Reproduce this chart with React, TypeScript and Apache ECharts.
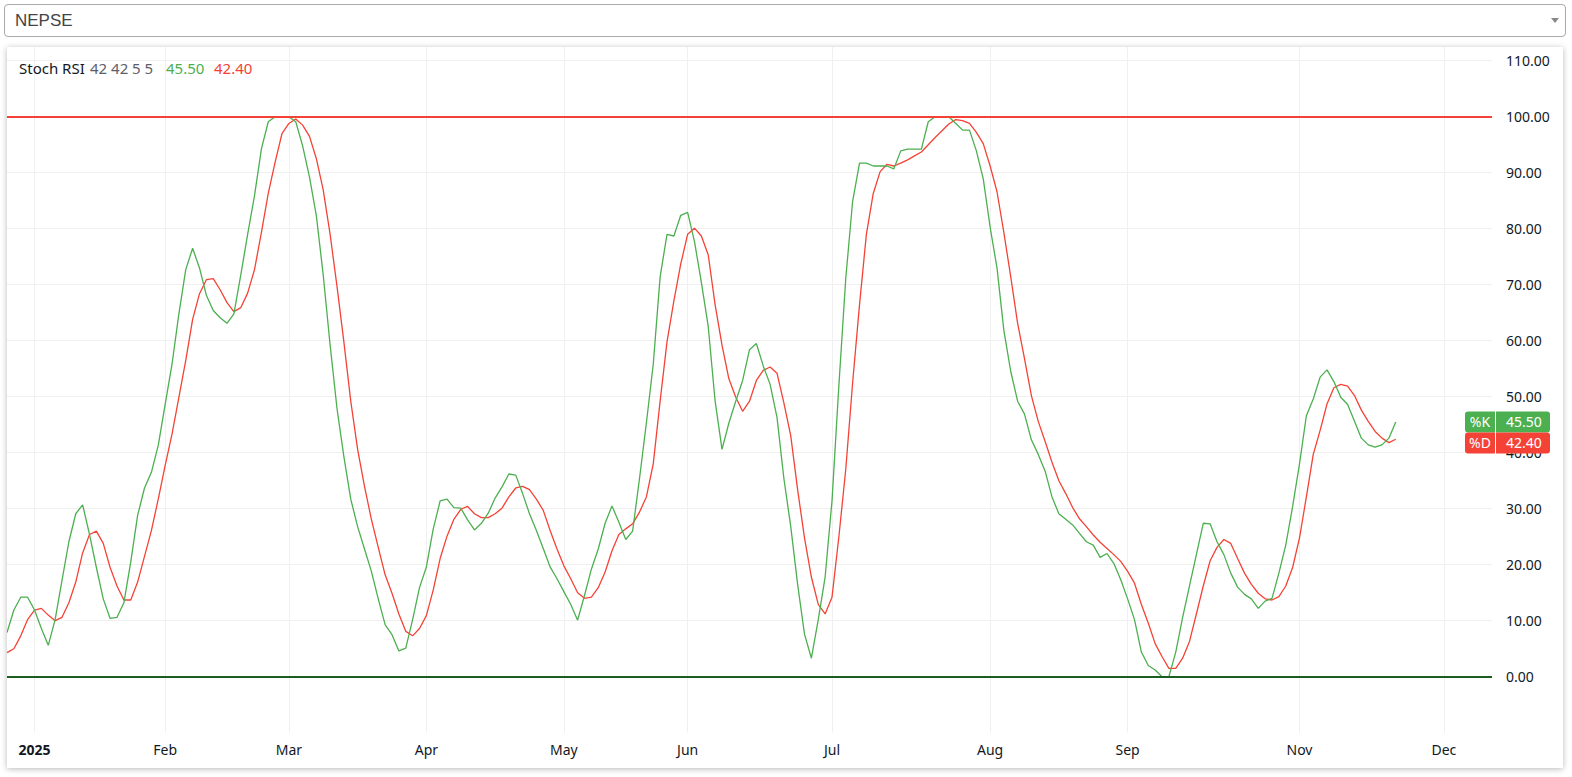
import React, { useEffect, useRef } from 'react';
import * as echarts from 'echarts';

const symbolName = 'NEPSE';
const indicatorName = 'Stoch RSI';
const indicatorParams = '42 42 5 5';

// bar index (trading days, 0 = first bar of 2025) of each month label
const monthTickIndex = [0, 19, 37, 57, 77, 95, 116, 139, 159, 184, 205];
const monthTickLabel = ['2025', 'Feb', 'Mar', 'Apr', 'May', 'Jun', 'Jul', 'Aug', 'Sep', 'Nov', 'Dec'];
const firstBarIndex = -4;
const lastSlotIndex = 212;

// %K (green), bars -4 .. 198
const kValues = [
  7.9, 11.9, 14.2, 14.2,
  11.9, 8.6, 5.6, 10.2, 17.2, 24.1, 29.1, 30.7, 25.4, 19.5,
  13.9, 10.4, 10.6, 13.2, 20.5, 28.8, 33.7, 36.5, 41.3, 48.6,
  55.8, 64.8, 72.7, 76.5, 73.0, 68.1, 65.4, 64.1, 63.1, 64.8,
  71.7, 79.0, 85.9, 94.2, 99.1, 100, 100, 100, 99.1, 94.8,
  89.2, 82.3, 71.7, 59.2, 47.9, 39.3, 31.7, 26.8, 22.8, 18.8,
  13.9, 9.3, 7.5, 4.6, 5.1, 10.2, 15.9, 19.6, 26.4, 31.4,
  31.7, 30.2, 30.1, 28.0, 26.2, 27.4, 29.2, 31.9, 33.9, 36.2,
  36.0, 32.7, 29.1, 26.1, 22.9, 19.6, 17.5, 15.2, 12.9, 10.1,
  14.5, 19.2, 22.8, 27.4, 30.5, 27.6, 24.5, 26.0, 35.4, 45.3,
  55.8, 71.4, 79.0, 78.7, 82.4, 82.9, 77.7, 70.4, 62.5, 49.2,
  40.6, 45.3, 49.2, 52.9, 58.4, 59.5, 55.5, 52.2, 46.3, 35.4,
  26.8, 16.5, 7.6, 3.3, 10.2, 17.8, 31.4, 52.0, 71.1, 84.9,
  91.7, 91.7, 91.2, 91.2, 91.2, 90.7, 93.9, 94.2, 94.2, 94.2,
  99.1, 100, 100, 100, 98.8, 97.6, 97.6, 93.9, 88.9, 80.3,
  73.0, 61.8, 54.5, 49.2, 46.9, 42.3, 39.7, 36.7, 32.1, 29.1,
  28.1, 27.1, 25.6, 24.1, 23.5, 21.3, 22.0, 20.2, 17.3, 13.9,
  10.2, 4.4, 2.0, 1.2, 0, 0, 4.4, 10.6, 16.2, 21.8,
  27.4, 27.3, 24.1, 21.8, 18.5, 16.0, 14.7, 13.9, 12.2, 13.5,
  14.0, 18.5, 23.5, 30.4, 38.0, 46.6, 49.6, 53.5, 54.8, 52.7,
  49.9, 48.6, 45.6, 42.6, 41.4, 41.0, 41.4, 42.6, 45.5,
];

// %D (red), bars -4 .. 198
const dValues = [
  4.3, 5.0, 7.3, 10.2,
  11.9, 12.2, 11.0, 10.0, 10.6, 13.2, 16.9, 22.1, 25.4, 26.0,
  23.8, 19.5, 16.2, 13.7, 13.7, 16.9, 21.5, 26.1, 31.7, 37.7,
  43.3, 49.9, 56.5, 63.8, 68.4, 70.9, 71.1, 69.1, 66.8, 65.2,
  65.9, 68.5, 72.7, 79.3, 86.3, 91.9, 97.0, 98.8, 99.6, 98.5,
  96.5, 92.5, 86.9, 79.0, 69.7, 59.8, 49.2, 40.6, 34.0, 28.1,
  23.1, 18.2, 14.9, 11.2, 8.1, 7.3, 8.6, 10.9, 15.5, 21.1,
  25.1, 28.1, 29.9, 30.4, 29.1, 28.4, 28.4, 29.1, 30.1, 32.1,
  33.7, 34.0, 33.4, 31.7, 29.7, 26.1, 22.8, 19.8, 17.5, 15.0,
  14.0, 14.2, 15.9, 18.7, 22.5, 25.4, 26.4, 27.3, 29.4, 32.1,
  38.0, 49.2, 59.8, 67.1, 73.7, 79.0, 80.1, 78.7, 75.3, 66.4,
  59.2, 53.2, 49.9, 47.4, 49.2, 52.9, 54.7, 55.3, 54.2, 48.9,
  43.0, 33.4, 24.8, 17.8, 12.9, 11.2, 14.2, 25.0, 37.0, 52.5,
  66.4, 79.0, 86.3, 90.2, 91.5, 91.2, 91.7, 92.3, 93.0, 93.7,
  95.0, 96.3, 97.5, 98.7, 99.5, 99.3, 98.8, 97.2, 95.2, 91.2,
  86.6, 79.3, 71.4, 63.1, 56.8, 50.2, 45.6, 42.0, 38.3, 35.0,
  32.7, 30.2, 28.2, 26.8, 25.3, 24.0, 22.9, 21.8, 20.6, 18.8,
  16.7, 12.9, 9.6, 5.9, 3.6, 1.5, 1.5, 3.3, 6.3, 11.2,
  16.2, 20.7, 23.1, 24.5, 23.8, 21.1, 18.5, 16.5, 14.9, 13.9,
  13.7, 14.3, 16.2, 19.5, 24.8, 32.1, 39.7, 44.0, 48.7, 51.6,
  52.2, 51.9, 50.2, 47.6, 45.6, 43.8, 42.6, 41.8, 42.4,
];

const upperBand = 100;
const lowerBand = 0;

const K_COLOR = '#4caf50';
const D_COLOR = '#f44336';
const FONT = "'Noto Sans', 'Open Sans', sans-serif";
const TEXT = '#131722';

export default function App() {
  const ref = useRef<HTMLDivElement>(null);

  useEffect(() => {
    const chart = echarts.init(ref.current!, null, { renderer: 'svg' });
    const categories: string[] = [];
    for (let i = firstBarIndex; i <= lastSlotIndex; i++) categories.push(String(i));
    const labelFor = new Map<number, string>();
    monthTickIndex.forEach((v, i) => labelFor.set(v, monthTickLabel[i]));
    const isTick = (index: number) => labelFor.has(index + firstBarIndex);

    const lastK = kValues[kValues.length - 1];
    const lastD = dValues[dValues.length - 1];

    chart.setOption({
      animation: false,
      textStyle: { fontFamily: FONT },
      grid: { left: 0, right: 71, top: 0, bottom: 35.3, containLabel: false },
      xAxis: {
        type: 'category',
        data: categories,
        boundaryGap: false,
        axisLine: { show: false, onZero: false },
        axisTick: { show: false, interval: isTick },
        splitLine: { show: true, interval: isTick, lineStyle: { color: '#f0f0f0', width: 1 } },
        axisLabel: {
          interval: isTick,
          margin: 10,
          color: TEXT,
          fontSize: 14,
          fontFamily: FONT,
          formatter: (v: string) => {
            const lab = labelFor.get(Number(v)) || '';
            return lab === '2025' ? '{b|' + lab + '}' : lab;
          },
          rich: { b: { fontWeight: 'bold', fontSize: 14, color: TEXT, fontFamily: FONT } },
        },
      },
      yAxis: {
        type: 'value',
        position: 'right',
        min: -10,
        max: 112.45,
        interval: 10,
        axisLine: { show: false },
        axisTick: { show: false },
        splitLine: { show: true, showMinLine: false, showMaxLine: false, lineStyle: { color: '#f0f0f0', width: 1 } },
        axisLabel: {
          showMinLabel: false,
          showMaxLabel: false,
          margin: 14,
          color: TEXT,
          fontSize: 14,
          fontFamily: FONT,
          formatter: (v: number) => v.toFixed(2),
        },
      },
      series: [
        {
          type: 'line',
          data: [],
          z: 1,
          markLine: {
            silent: true,
            symbol: 'none',
            label: { show: false },
            data: [
              { yAxis: upperBand, lineStyle: { color: D_COLOR, width: 2, type: 'solid' } },
              { yAxis: lowerBand, lineStyle: { color: '#1b5e20', width: 2, type: 'solid' } },
            ],
          },
        },
        {
          name: '%D',
          type: 'line',
          data: dValues,
          showSymbol: false,
          z: 3,
          lineStyle: { color: D_COLOR, width: 1.3 },
          itemStyle: { color: D_COLOR },
        },
        {
          name: '%K',
          type: 'line',
          data: kValues,
          showSymbol: false,
          z: 3,
          lineStyle: { color: K_COLOR, width: 1.3 },
          itemStyle: { color: K_COLOR },
        },
      ],
    });

    const yK = chart.convertToPixel({ yAxisIndex: 0 }, lastK) as number;
    let yD = chart.convertToPixel({ yAxisIndex: 0 }, lastD) as number;
    const h = 21;
    if (Math.abs(yD - yK) < h) yD = yD >= yK ? yK + h : yK - h;

    const badge = (y: number, name: string, val: number, color: string) => [
      { type: 'rect', z: 100, shape: { x: 1458, y: y - h / 2, width: 30, height: h, r: [3, 0, 0, 3] }, style: { fill: color } },
      { type: 'rect', z: 100, shape: { x: 1489, y: y - h / 2, width: 54, height: h, r: [0, 3, 3, 0] }, style: { fill: color } },
      { type: 'text', z: 101, x: 1473, y, style: { text: name, fill: '#ffffff', fontSize: 14, fontFamily: FONT, align: 'center', verticalAlign: 'middle' } },
      { type: 'text', z: 101, x: 1499, y, style: { text: val.toFixed(2), fill: '#ffffff', fontSize: 14, fontFamily: FONT, align: 'left', verticalAlign: 'middle' } },
    ];

    const legendText = (x: number, text: string, color: string) => ({
      type: 'text', z: 100, x, y: 21,
      style: { text, fill: color, fontSize: 15, fontFamily: FONT, align: 'left', verticalAlign: 'middle' },
    });

    chart.setOption({
      graphic: [
        legendText(12, indicatorName, TEXT),
        legendText(83, indicatorParams, '#5d606b'),
        legendText(159, lastK.toFixed(2), K_COLOR),
        legendText(207, lastD.toFixed(2), D_COLOR),
        ...badge(yK, '%K', lastK, K_COLOR),
        ...badge(yD, '%D', lastD, D_COLOR),
      ],
    });

    return () => chart.dispose();
  }, []);

  return (
    <div style={{ position: 'absolute', left: 0, top: 0, width: 1572, height: 777, background: '#fff' }}>
      <div
        style={{
          position: 'absolute', left: 4, top: 4, width: 1560, height: 31,
          border: '1px solid #aaa', borderRadius: 4, background: '#fff',
        }}
      >
        <span
          style={{
            position: 'absolute', left: 10, top: 0, lineHeight: '31px',
            fontFamily: "'Liberation Sans', Arial, sans-serif", fontSize: 17, color: '#444',
          }}
        >
          {symbolName}
        </span>
        <div
          style={{
            position: 'absolute', right: 6, top: 13, width: 0, height: 0,
            borderLeft: '4px solid transparent', borderRight: '4px solid transparent', borderTop: '5px solid #888',
          }}
        />
      </div>
      <div
        style={{
          position: 'absolute', left: 7, top: 47, width: 1556, height: 721,
          background: '#fff', boxShadow: '0 1px 6px rgba(0,0,0,0.28)',
        }}
      >
        <div ref={ref} style={{ width: 1556, height: 721 }} />
      </div>
    </div>
  );
}
